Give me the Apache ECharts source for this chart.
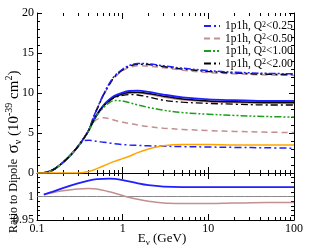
<!DOCTYPE html>
<html><head><meta charset="utf-8">
<script src="https://cdn.jsdelivr.net/npm/echarts@6/dist/echarts.min.js"></script>
<style>html,body{margin:0;padding:0;background:#fff}#c{width:319px;height:247px}</style>
</head><body><div id="c"></div>
<script>
// Energies (GeV)
const energy = [0.1,0.11,0.12,0.14,0.16,0.18,0.2,0.25,0.3,0.35,0.4,0.45,0.5,0.6,0.7,0.8,1.0,1.2,1.5,2,3,5,10,20,50,100];
const base = [0,0,0.02,0.2,0.5,0.9,1.3,2.3,3.3,4.3,5.3];
// upper group (totals)
const upperBlue  = base.concat([6.8,8.0,9.9,11.2,12.1,13.0,13.45,13.7,13.65,13.4,13.1,12.8,12.6,12.45,12.4]);
const upperBlack = base.concat([6.75,7.95,9.8,11.1,12.0,12.9,13.35,13.6,13.55,13.3,13.0,12.7,12.5,12.35,12.3]);
const upperBrown = base.concat([6.7,7.9,9.7,11.0,11.9,12.8,13.2,13.4,13.35,13.15,12.85,12.55,12.4,12.25,12.2]);
// middle group (solid)
const midBlue  = base.concat([6.4,7.3,8.5,9.2,9.65,10.05,10.25,10.3,10.15,9.8,9.45,9.2,9.1,9.0,9.0]);
const midBlack = base.concat([6.4,7.25,8.4,9.1,9.5,9.9,10.05,10.1,9.95,9.6,9.25,9.0,8.9,8.8,8.8]);
const midBrown = base.concat([6.4,7.25,8.4,9.05,9.45,9.85,10.0,10.0,9.85,9.5,9.15,8.9,8.8,8.72,8.7]);
// 1p1h with Q2 cuts
const q2_025 = [0,0,0.02,0.2,0.5,0.9,1.3,2.3,3.3,4.0,4.1,4.05,3.95,3.85,3.75,3.65,3.55,3.5,3.45,3.4,3.35,3.3,3.25,3.2,3.15,3.1];
const q2_050 = base.concat([6.2,6.7,6.9,6.8,6.6,6.35,6.2,6.0,5.8,5.6,5.45,5.3,5.2,5.1,5.05]);
const q2_100 = base.concat([6.35,7.2,8.2,8.8,9.05,9.0,8.8,8.5,8.2,7.85,7.55,7.35,7.2,7.05,7.0]);
const q2_200 = base.concat([6.4,7.3,8.4,9.0,9.4,9.7,9.8,9.75,9.5,9.1,8.85,8.7,8.6,8.5,8.5]);
const orange = [0,0,0,0,0,0,0,0,0,0.05,0.2,0.35,0.55,0.9,1.2,1.45,1.8,2.1,2.55,3.0,3.4,3.55,3.55,3.5,3.5,3.5];
// ratio panel
const ratioE = [0.12,0.15,0.2,0.3,0.4,0.5,0.7,1,1.5,2,3,5,10,20,50,100];
const ratioBlue  = [1.004,1.01,1.018,1.028,1.034,1.037,1.038,1.035,1.028,1.024,1.021,1.02,1.02,1.02,1.02,1.02];
const ratioBrown = [1.004,1.008,1.012,1.016,1.017,1.016,1.01,1.002,0.994,0.99,0.986,0.985,0.985,0.986,0.987,0.987];
const ratioOne = [1,1];
const ratioOneE = [0.1,100];
// ticks
const xMajor = [0.1,1,10,100];
const xMinor = [0.2,0.3,0.4,0.5,0.6,0.7,0.8,0.9,2,3,4,5,6,7,8,9,20,30,40,50,60,70,80,90];
const legendNames = ['1p1h, Q2<0.25','1p1h, Q2<0.50','1p1h, Q2<1.00','1p1h, Q2<2.00'];

const FONT = 'Liberation Serif';
const BLUE = '#1f1fff', BROWN = '#c29090', GREEN = '#1c9f1c', BLACK = '#000', ORANGE = '#ffa500';
const DD = [7,2,2,2,2,2], DOT = [7,3,2,3], DASH = [6,4];

function pairs(xs, ys){ return xs.map((x,i)=>[x, ys[i]]); }
function line(name, ys, color, type, width, g, xs){
  return {name, type:'line', data: pairs(xs||energy, ys), xAxisIndex: g?5:0, yAxisIndex: g?2:0,
    symbol:'none', smooth:0.35, lineStyle:{color, type, width}, itemStyle:{color}, z: 3, silent:true, animation:false};
}
const log10 = v=>Math.log10(v);
function tickAxis(grid, pos, vals, len){
  return {type:'value', gridIndex:grid, position:pos, min:-1, max:2,
    axisLine:{show:false}, axisLabel:{show:false}, splitLine:{show:false},
    axisTick:{show:true, inside:true, length:len, customValues: vals.map(log10), lineStyle:{color:'#000', width:1}}};
}
function dataX(grid, labels){
  return {type:'log', gridIndex:grid, position:'bottom', min:0.1, max:100, logBase:10,
    axisLine:{show:true, lineStyle:{color:'#000', width:1}}, axisTick:{show:false}, splitLine:{show:false},
    axisLabel:{show:labels, fontFamily:FONT, fontSize:12, color:'#000', margin:3,
      formatter: v => (v<1? String(v) : String(Math.round(v)))}};
}
function yAx(grid, pos, min, max, interval, labels, fmt){
  return {type:'value', gridIndex:grid, position:pos, min, max, interval,
    axisLine:{show:true, onZero:false, lineStyle:{color:'#000', width:1}},
    axisTick:{show:true, inside:true, length:5, lineStyle:{color:'#000'}},
    minorTick:{show:true, splitNumber:5, length:3, lineStyle:{color:'#000'}},
    splitLine:{show:false},
    axisLabel:{show:labels, fontFamily:FONT, fontSize:12, color:'#000', margin:3, formatter: fmt}};
}

const chart = echarts.init(document.getElementById('c'), null, {renderer:'canvas'});
chart.setOption({
  animation:false,
  backgroundColor:'#fff',
  grid:[{left:37, right:25, top:13, height:160},{left:37, right:25, top:173, height:47}],
  xAxis:[
    dataX(0,false), tickAxis(0,'bottom',xMajor,6), tickAxis(0,'bottom',xMinor,3), tickAxis(0,'top',xMajor,6), tickAxis(0,'top',xMinor,3),
    dataX(1,true), tickAxis(1,'bottom',xMajor,6), tickAxis(1,'bottom',xMinor,3), tickAxis(1,'top',xMajor,6), tickAxis(1,'top',xMinor,3)
  ],
  yAxis:[
    yAx(0,'left',0,20,5,true),
    yAx(0,'right',0,20,5,false),
    yAx(1,'left',0.95,1.05,0.05,true, v => (Math.abs(v-1.05)<1e-6 ? '' : (Math.abs(v-1)<1e-6 ? '1' : '0.95'))),
    yAx(1,'right',0.95,1.05,0.05,false)
  ],
  legend:{
    data: legendNames, orient:'vertical', left:198, top:15, itemWidth:16, itemHeight:9, itemGap:0.5,
    itemStyle:{opacity:0, color:'transparent', borderWidth:0},
    textStyle:{fontFamily:FONT, fontSize:11.5, color:'#000', lineHeight:11,
      rich:{sup:{fontFamily:FONT, fontSize:8, lineHeight:11, verticalAlign:'top', padding:[0,0,3,0]}}},
    formatter: n => n.replace('Q2', 'Q{sup|2}'),
    selectedMode:false
  },
  graphic:[
    {type:'text', x:14, y:112, rotation:Math.PI/2, silent:true,
     style:{text:'{s|σ}{sub|ν} (10{sup|-39} cm{sup|2})', align:'center', verticalAlign:'middle',
       fill:'#000', fontFamily:FONT, fontSize:15,
       rich:{s:{fontFamily:FONT, fontSize:17}, sub:{fontFamily:FONT, fontSize:10, padding:[8,0,0,0]},
             sup:{fontFamily:FONT, fontSize:10, padding:[0,0,9,0]}}}},
    {type:'text', x:14, y:196, rotation:Math.PI/2, silent:true,
     style:{text:'Ratio to Dipole', align:'center', verticalAlign:'middle', fill:'#000', fontFamily:FONT, fontSize:12}},
    {type:'text', x:162, y:239, silent:true,
     style:{text:'E{sub|ν} (GeV)', align:'center', verticalAlign:'middle', fill:'#000', fontFamily:FONT, fontSize:13,
       rich:{sub:{fontFamily:FONT, fontSize:9, padding:[7,0,0,0]}}}}
  ],
  series:[
    line('upperBrown', upperBrown, BROWN, DASH, 1.5),
    line('upperBlack', upperBlack, BLACK, DOT, 1.5),
    line('upperBlue', upperBlue, BLUE, DD, 1.5),
    line('midBrown', midBrown, BROWN, 'solid', 1.5),
    line('midBlack', midBlack, BLACK, 'solid', 1.5),
    line('midBlue', midBlue, BLUE, 'solid', 1.8),
    line(legendNames[0], q2_025, BLUE, DOT, 1.5),
    line(legendNames[1], q2_050, BROWN, DASH, 1.5),
    line(legendNames[2], q2_100, GREEN, DD, 1.5),
    line(legendNames[3], q2_200, BLACK, DOT, 1.3),
    line('orange', orange, ORANGE, 'solid', 1.5),
    line('one', ratioOne, '#888', 'solid', 1, 1, ratioOneE),
    line('ratioBrown', ratioBrown, BROWN, 'solid', 1.5, 1, ratioE),
    line('ratioBlue', ratioBlue, BLUE, 'solid', 1.8, 1, ratioE)
  ]
});
</script></body></html>
